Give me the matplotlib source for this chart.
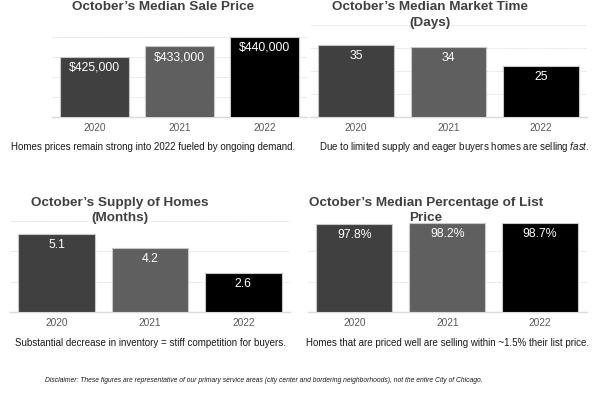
import numpy as np
import matplotlib
matplotlib.use('Agg')
import matplotlib.pyplot as plt

plt.rcParams['font.family'] = ['Liberation Sans', 'DejaVu Sans']
plt.rcParams['mathtext.fontset'] = 'custom'
plt.rcParams['mathtext.rm'] = 'Liberation Sans'
plt.rcParams['mathtext.it'] = 'Liberation Sans:italic'

# chart data
years = ['2020', '2021', '2022']
sale_price = [425000, 433000, 440000]
market_days = [35, 34, 25]
supply_months = [5.1, 4.2, 2.6]
pct_of_list = [97.8, 98.2, 98.7]

titles = [
    "October\u2019s Median Sale Price",
    "October\u2019s Median Market Time\n(Days)",
    "October\u2019s Supply of Homes\n(Months)",
    "October\u2019s Median Percentage of List\nPrice",
]
captions = [
    "Homes prices remain strong into 2022 fueled by ongoing demand.",
    "Due to limited supply and eager buyers homes are selling $\\it{fast}$.",
    "Substantial decrease in inventory = stiff competition for buyers.",
    "Homes that are priced well are selling within ~1.5% their list price.",
]
disclaimer = ("Disclaimer: These figures are representative of our primary service areas "
              "(city center and bordering neighborhoods), not the entire City of Chicago.")

bar_colors = ['#404040', '#5f5f5f', '#000000']
W, H = 600, 397


def px_axes(fig, left, right, top, bottom):
    return fig.add_axes([left / W, (H - bottom) / H, (right - left) / W, (bottom - top) / H])


def draw_panel(ax, values, labels, ylim, yticks):
    x = np.arange(len(years))
    ax.bar(x, values, width=0.82, color=bar_colors, edgecolor='#c8c8c8', linewidth=0.8, zorder=3)
    ax.set_xlim(-0.5, len(years) - 0.5)
    ax.set_ylim(*ylim)
    ax.set_yticks(yticks)
    ax.set_yticklabels([])
    ax.set_xticks(x)
    ax.set_xticklabels(years, fontsize=7.3, color='#595959')
    ax.tick_params(axis='both', length=0)
    ax.tick_params(axis='x', pad=4.3)
    ax.grid(axis='y', color='#d4d4d4', linestyle=(0, (1, 1)), linewidth=0.6, zorder=0)
    for s in ['top', 'right', 'left']:
        ax.spines[s].set_visible(False)
    ax.spines['bottom'].set_color('#d9d9d9')
    ax.spines['bottom'].set_linewidth(1.0)
    for xi, v, lab in zip(x, values, labels):
        ax.annotate(lab, (xi, v), xytext=(0, -11), textcoords='offset pixels',
                    ha='center', va='center', color='white', fontsize=8.8, zorder=4)


fig = plt.figure(figsize=(6, 3.97), dpi=100)

ax1 = px_axes(fig, 52, 307, 37, 117)
draw_panel(ax1, sale_price, [f"${v:,}" for v in sale_price],
           (380000, 440000), np.linspace(380000, 440000, 5))

ax2 = px_axes(fig, 310, 587, 25, 117)
draw_panel(ax2, market_days, [str(v) for v in market_days],
           (0, 45), np.linspace(0, 45, 5))

ax3 = px_axes(fig, 10, 290, 220.7, 312.3)
draw_panel(ax3, supply_months, [f"{v:.1f}" for v in supply_months],
           (0, 6), [0, 2, 4, 6])

ax4 = px_axes(fig, 308, 586.5, 220.7, 312.3)
draw_panel(ax4, pct_of_list, [f"{v:.1f}%" for v in pct_of_list],
           (0, 101), np.linspace(0, 101, 4)[:-1])

# titles (pixel centres measured from the layout)
title_pos = [(163, 7), (430, 15), (120, 210.5), (426, 210.5)]
for t, (cx, cy) in zip(titles, title_pos):
    fig.text(cx / W, 1 - cy / H, t, ha='center', va='center', fontsize=9.7,
             fontweight='bold', color='#404040', linespacing=1.4)

cap_pos = [(153, 147), (454, 147), (150, 343), (447, 343)]
for c, (cx, cy) in zip(captions, cap_pos):
    fig.text(cx / W, 1 - cy / H, c, ha='center', va='center', fontsize=7.0, color='#1a1a1a')

fig.text(264 / W, 1 - 380 / H, disclaimer, ha='center', va='center', fontsize=4.9,
         style='italic', color='#1a1a1a')

fig.savefig('out.png', dpi=100, facecolor='white')
